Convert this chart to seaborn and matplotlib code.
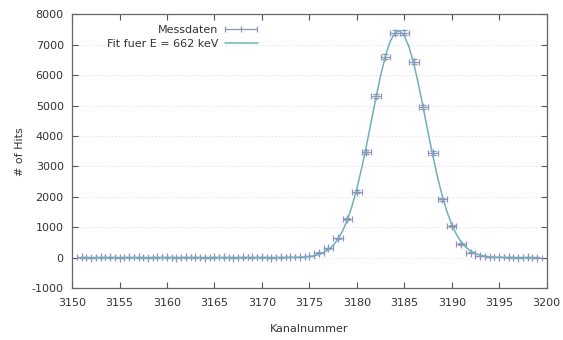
import numpy as np
import pandas as pd
import matplotlib
matplotlib.use("Agg")
import matplotlib.pyplot as plt
from matplotlib.legend_handler import HandlerErrorbar
import seaborn as sns

# ---- data ----
channels = list(range(3151, 3200))
counts = [3, 2, 4, 3, 2, 3, 4, 2, 3, 3, 2, 4, 3, 2, 3, 3, 2, 4, 3, 3, 2, 4, 8,
          20, 50, 160, 300, 630, 1255, 2165, 3480, 5312, 6605, 7400, 7400,
          6440, 4960, 3430, 1915, 1036, 445, 160, 50, 15, 5, 3, 2, 3, 2]
count_err = [max(np.sqrt(c), 1.0) for c in counts]

fit_x = [3151, 3172, 3174, 3174.5, 3175, 3175.5, 3176, 3176.5, 3177, 3177.5,
         3178, 3178.5, 3179, 3179.5, 3180, 3180.5, 3181, 3181.5, 3182, 3182.5,
         3183, 3183.5, 3184, 3184.5, 3185, 3185.5, 3186, 3186.5, 3187, 3187.5,
         3188, 3188.5, 3189, 3189.5, 3190, 3190.5, 3191, 3191.5, 3192, 3192.5,
         3193, 3193.5, 3194, 3194.5, 3195, 3197, 3199]
fit_y = [0, 2, 10, 18, 32, 57, 97, 160, 256, 398, 599, 875, 1239, 1702,
         2266, 2925, 3662, 4446, 5233, 5973, 6612, 7097, 7387, 7455, 7297,
         6924, 6373, 5686, 4921, 4129, 3359, 2651, 2028, 1505, 1083, 755,
         511, 335, 213, 131, 79, 46, 26, 14, 7, 1, 0]

legend_data = "Messdaten"
legend_fit = "Fit fuer E = 662 keV"
x_label = "Kanalnummer"
y_label = "# of Hits"
x_ticks = [3150, 3155, 3160, 3165, 3170, 3175, 3180, 3185, 3190, 3195, 3200]
y_ticks = [-1000, 0, 1000, 2000, 3000, 4000, 5000, 6000, 7000, 8000]

# ---- plotting ----
sns.set_style("white")
plt.rcParams['font.family'] = ['DejaVu Sans']

fig = plt.figure(figsize=(5.63, 3.40), dpi=100)
ax = fig.add_axes([0.128, 0.153, 0.843, 0.805])

data_color = "#8f93b8"
fit_color = "#6fb0bb"

df = pd.DataFrame({"x": channels, "y": counts})
fdf = pd.DataFrame({"x": fit_x, "y": fit_y})

ax.errorbar(df["x"], df["y"], xerr=0.5, yerr=count_err, fmt='none',
            ecolor=data_color, elinewidth=0.9, capsize=2.2, capthick=0.9,
            zorder=3)
sns.scatterplot(data=df, x="x", y="y", marker='|', s=30, color=data_color,
                linewidth=0.9, ax=ax, zorder=3, legend=False)
sns.lineplot(data=fdf, x="x", y="y", color=fit_color, linewidth=1.1, ax=ax,
             zorder=4, legend=False)

# legend handles (placed outside limits so they are not drawn in the plot)
h_data = ax.errorbar([0], [0], xerr=[1], fmt='|', color=data_color,
                     ecolor=data_color, elinewidth=0.9, capsize=2.5,
                     capthick=0.9, markersize=5, mew=0.9)
h_fit, = ax.plot([0, 1], [0, 0], color=fit_color, linewidth=1.1)

ax.set_xlim(3150, 3200)
ax.set_ylim(-1000, 8000)
ax.set_xticks(x_ticks)
ax.set_yticks(y_ticks)
ax.tick_params(direction='in', length=4, width=0.8, colors='#555555',
               labelcolor='#333333', labelsize=8, top=True, right=True,
               bottom=True, left=True)
ax.tick_params(axis='x', pad=7)
ax.tick_params(axis='y', pad=6)
ax.set_xticklabels([str(t) for t in x_ticks])
ax.set_yticklabels([str(t) for t in y_ticks])
for s in ax.spines.values():
    s.set_color('#666666')
    s.set_linewidth(0.9)
ax.yaxis.grid(True, linestyle=(0, (1, 3)), color='#cccccc', linewidth=0.6)
ax.xaxis.grid(False)

ax.set_xlabel(x_label, fontsize=8, color='#333333', labelpad=12)
ax.set_ylabel(y_label, fontsize=8, color='#333333', labelpad=5)

leg = ax.legend([h_data, h_fit], [legend_data, legend_fit],
                loc='upper left', bbox_to_anchor=(0.06, 0.985), frameon=False,
                markerfirst=False, fontsize=8, handlelength=3.0,
                handletextpad=0.55, labelspacing=0.35, borderaxespad=0.2,
                handler_map={type(h_data): HandlerErrorbar(xerr_size=1.45)})
for t in leg.get_texts():
    t.set_color('#333333')
    t.set_horizontalalignment('right')

fig.savefig("out.png", dpi=100)
